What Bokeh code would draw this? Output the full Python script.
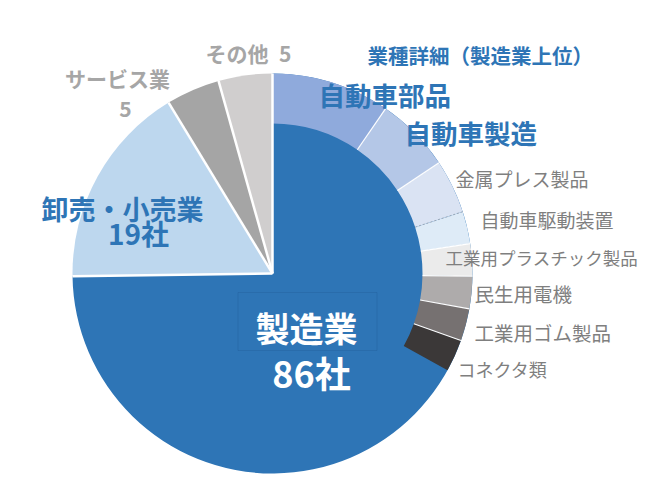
import numpy as np
from bokeh.plotting import figure
from bokeh.models import Range1d
from bokeh.core.properties import value
from bokeh.embed import file_html
from bokeh.resources import INLINE

# ---- data ----
industries = ["製造業", "卸売・小売業", "サービス業", "その他"]
industry_counts = [86, 19, 5, 5]
industry_colors = ["#2e75b6", "#bdd7ee", "#a5a5a5", "#d0cece"]

detail_names = ["自動車部品", "自動車製造", "金属プレス製品", "自動車駆動装置",
                "工業用プラスチック製品", "民生用電機", "工業用ゴム製品", "コネクタ類"]
detail_counts = [11, 7, 5, 3, 3, 3, 3, 3]
detail_colors = ["#8faadc", "#b4c7e7", "#dae3f3", "#deebf7",
                 "#ebebeb", "#aeabab", "#767171", "#3b3838"]

detail_title = "業種詳細（製造業上位）"

# ---- layout ----
W, H = 650, 491
CX, CY = 272, H - 273
R, R_IN = 200, 150
FONT = value("Noto Sans CJK JP")

total = sum(industry_counts)


def angles(counts):
    cum = np.concatenate([[0], np.cumsum(counts)])
    a = np.pi / 2 - cum / total * 2 * np.pi
    return a[:-1], a[1:], a


p = figure(width=W, height=H, output_backend="svg", toolbar_location=None,
           x_range=Range1d(0, W), y_range=Range1d(0, H), min_border=0)
p.axis.visible = False
p.grid.visible = False
p.outline_line_color = None
p.background_fill_color = "white"

# outer pie
s, e, a_out = angles(industry_counts)
p.wedge(x=CX, y=CY, radius=R, start_angle=s, end_angle=e, direction="clock",
        fill_color=industry_colors, line_color=None)

# detail ring over manufacturing
ds, de, a_det = angles(detail_counts)
p.annular_wedge(x=CX, y=CY, inner_radius=R_IN, outer_radius=R, start_angle=ds,
                end_angle=de, direction="clock", fill_color=detail_colors,
                line_color=None)

# ring separators
inner_b = a_det[1:-1]
solid = [i for i in range(len(inner_b)) if i != 2]
p.segment(x0=[CX + R_IN * np.cos(inner_b[i]) for i in solid],
          y0=[CY + R_IN * np.sin(inner_b[i]) for i in solid],
          x1=[CX + R * np.cos(inner_b[i]) for i in solid],
          y1=[CY + R * np.sin(inner_b[i]) for i in solid],
          line_color="white", line_width=1.2)
p.segment(x0=[CX + R_IN * np.cos(inner_b[2])], y0=[CY + R_IN * np.sin(inner_b[2])],
          x1=[CX + R * np.cos(inner_b[2])], y1=[CY + R * np.sin(inner_b[2])],
          line_color="#9aa8b8", line_width=1, line_dash="2 2")

# outer separators
p.segment(x0=CX, y0=CY, x1=[CX + R * np.cos(a) for a in a_out[:-1]],
          y1=[CY + R * np.sin(a) for a in a_out[:-1]],
          line_color="white", line_width=2.5)

# ---- labels ----
BLUE = "#2e75b6"
GRAY = "#7f7f7f"
LGRAY = "#a6a6a6"


def txt(x, y, t, size, color, style="normal", align="left"):
    p.text(x=[x], y=[H - y], text=[t], text_font=FONT, text_font_size=f"{size}px",
           text_color=color, text_font_style=style, text_align=align,
           text_baseline="middle")


txt(367, 54, detail_title, 20.5, BLUE, "bold")
txt(318, 94, detail_names[0], 26.5, BLUE, "bold")
txt(404, 132, detail_names[1], 26.5, BLUE, "bold")
gray_pos = [(455, 178, 19), (480, 219, 19), (445, 257, 17.5), (474, 293, 19.5),
            (474, 332, 19.5), (457, 368, 18)]
for (x, y, sz), name in zip(gray_pos, detail_names[2:]):
    txt(x, y, name, sz, GRAY)

txt(248, 52, f"{industries[3]}\u2002{industry_counts[3]}", 21, LGRAY, "bold", "center")
txt(117, 77, industries[2], 21, LGRAY, "bold", "center")
txt(125, 108, str(industry_counts[2]), 21, LGRAY, "bold", "center")
txt(122, 208, industries[1], 27, BLUE, "bold", "center")
txt(138, 232, f"{industry_counts[1]}社", 28, BLUE, "bold", "center")

# manufacturing label with faint frame
p.rect(x=[307], y=[H - 321], width=139, height=58, fill_color=None,
       line_color="#1d5a92", line_alpha=0.3, line_width=1)
txt(306, 327, industries[0], 34, "white", "bold", "center")
txt(311, 371, f"{industry_counts[0]}社", 36, "white", "bold", "center")

open("out.html", "w").write(file_html(p, INLINE))
